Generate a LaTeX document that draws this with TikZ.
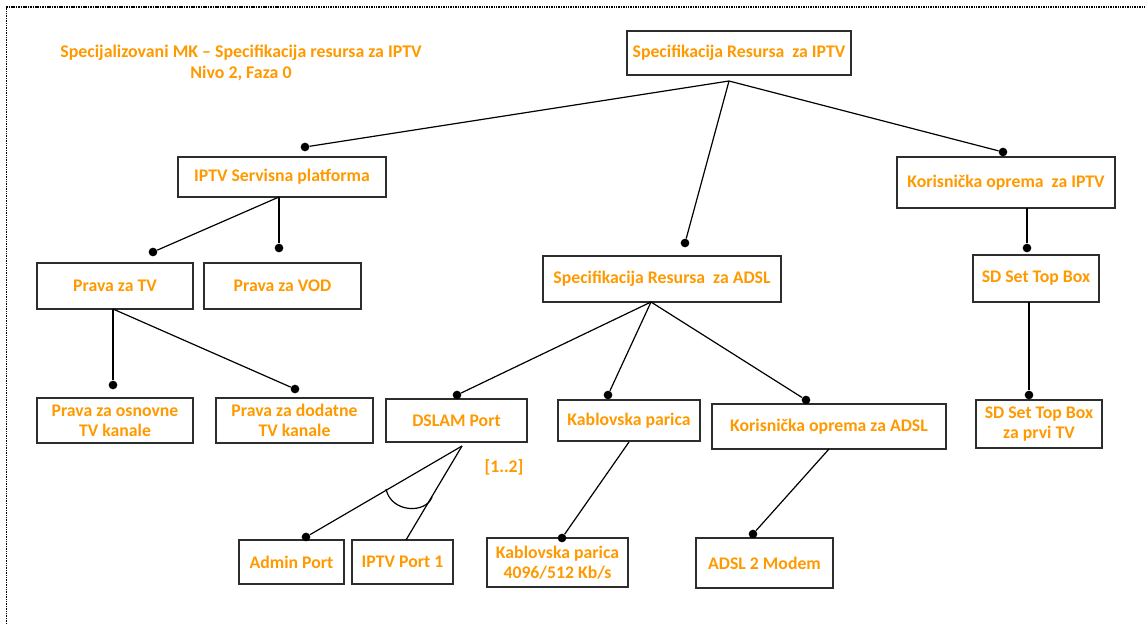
\documentclass[tikz,border=0pt]{standalone}
\usepackage{fontspec}
\setmainfont{Carlito}
\usepackage{tikz}
\usetikzlibrary{positioning,arrows.meta}
\usepackage{xcolor}
\definecolor{mkorange}{RGB}{255,153,0}
\definecolor{boxline}{RGB}{45,45,45}

\begin{document}
\begin{tikzpicture}[x=0.75pt,y=-0.75pt,
  font=\fontsize{13.3}{15}\selectfont\bfseries,
  box/.style 2 args={draw=boxline,line width=1pt,text=mkorange,align=center,
    minimum width=#1*0.75pt,minimum height=#2*0.75pt,inner sep=2pt},
  dot/.style={circle,fill=black,inner sep=0pt,minimum size=6.5pt},
  link/.style={line width=0.9pt},
  frame/.style={line width=1.1pt,dash pattern=on 1.1pt off 0.7pt}]
\useasboundingbox (0,0) rectangle (1145,624);
\draw[frame] (6.5,624) -- (6.5,7) -- (1145,7);
\node[text=mkorange,align=center,font=\fontsize{13.4}{15.75}\selectfont\bfseries] (title) at (241,63) {Specijalizovani MK -- Specifikacija resursa za IPTV\\Nivo 2, Faza 0};
\node[box={224}{44}] (root) at (739,53) {Specifikacija Resursa\ \ za IPTV};
\node[box={208}{40}] (servis) at (282,177) {IPTV Servisna platforma};
\node[box={218}{51}] (korIPTV) at (1006,182.5) {Korisnička oprema\ \ za IPTV};
\node[box={156}{46}] (pravaTV) at (115,286) {Prava za TV};
\node[box={157}{46}] (pravaVOD) at (282.5,286) {Prava za VOD};
\node[box={238}{46}] (adsl) at (662,279) {Specifikacija Resursa\ \ za ADSL};
\node[box={126}{47}] (stb) at (1036,278.5) {SD Set Top Box};
\node[box={156}{45}] (osnovne) at (115,420.5) {Prava za osnovne\\TV kanale};
\node[box={157}{45}] (dodatne) at (294.5,420.5) {Prava za dodatne\\TV kanale};
\node[box={141}{43}] (dslam) at (456.5,420.5) {DSLAM Port};
\node[box={142}{41}] (kabl) at (629,420.5) {Kablovska parica};
\node[box={234}{45}] (korADSL) at (829,426.5) {Korisnička oprema za ADSL};
\node[box={126}{48}] (stbTV) at (1039,424) {SD Set Top Box\\za prvi TV};
\node[box={105}{44}] (admin) at (291.5,562) {Admin Port};
\node[box={101}{44}] (iptvPort) at (402.5,562) {IPTV Port 1};
\node[box={141}{49}] (kablBrzina) at (557.5,562.5) {Kablovska parica\\4096/512 Kb/s};
\node[box={137}{50}] (modem) at (764.5,563) {ADSL 2 Modem};
\node[text=mkorange] (mult) at (504,467) {[1..2]};
\coordinate (rootB) at (729,81);
\coordinate (servisB) at (279,197);
\coordinate (korIPTVB) at (1027,208);
\coordinate (pravaTVB) at (113,309);
\coordinate (adslB) at (651,302);
\coordinate (stbB) at (1029,302);
\coordinate (dslamB) at (462,446);
\coordinate (kablB) at (629,442);
\coordinate (korADSLB) at (829,449);
\coordinate (iptvPortT) at (406,540);
\node[dot] (dServis) at (305,147) {};
\node[dot] (dAdsl) at (685,243) {};
\node[dot] (dKorIPTV) at (1003,152) {};
\node[dot] (dPravaTV) at (153,252) {};
\node[dot] (dPravaVOD) at (279,248) {};
\node[dot] (dStb) at (1027,248) {};
\node[dot] (dOsnovne) at (113,385) {};
\node[dot] (dDodatne) at (295,389) {};
\node[dot] (dDslam) at (457,395) {};
\node[dot] (dKabl) at (608,395) {};
\node[dot] (dKorADSL) at (806,400) {};
\node[dot] (dStbTV) at (1029,395) {};
\node[dot] (dAdmin) at (306,537) {};
\node[dot] (dKablBrzina) at (562,538) {};
\node[dot] (dModem) at (753,534) {};
\draw[link] (rootB) -- (dServis);
\draw[link] (rootB) -- (dAdsl);
\draw[link] (rootB) -- (dKorIPTV);
\draw[link] (servisB) -- (dPravaTV);
\draw[link] (servisB) -- (dPravaVOD);
\draw[link] (korIPTVB) -- (dStb);
\draw[link] (pravaTVB) -- (dOsnovne);
\draw[link] (pravaTVB) -- (dDodatne);
\draw[link] (adslB) -- (dDslam);
\draw[link] (adslB) -- (dKabl);
\draw[link] (adslB) -- (dKorADSL);
\draw[link] (stbB) -- (dStbTV);
\draw[link] (dslamB) -- (dAdmin);
\draw[link] (dslamB) -- (iptvPortT);
\draw[link] (kablB) -- (dKablBrzina);
\draw[link] (korADSLB) -- (dModem);
\draw[link] (386,489) .. controls (391,513) and (426,514) .. (432,497);
\end{tikzpicture}
\end{document}
